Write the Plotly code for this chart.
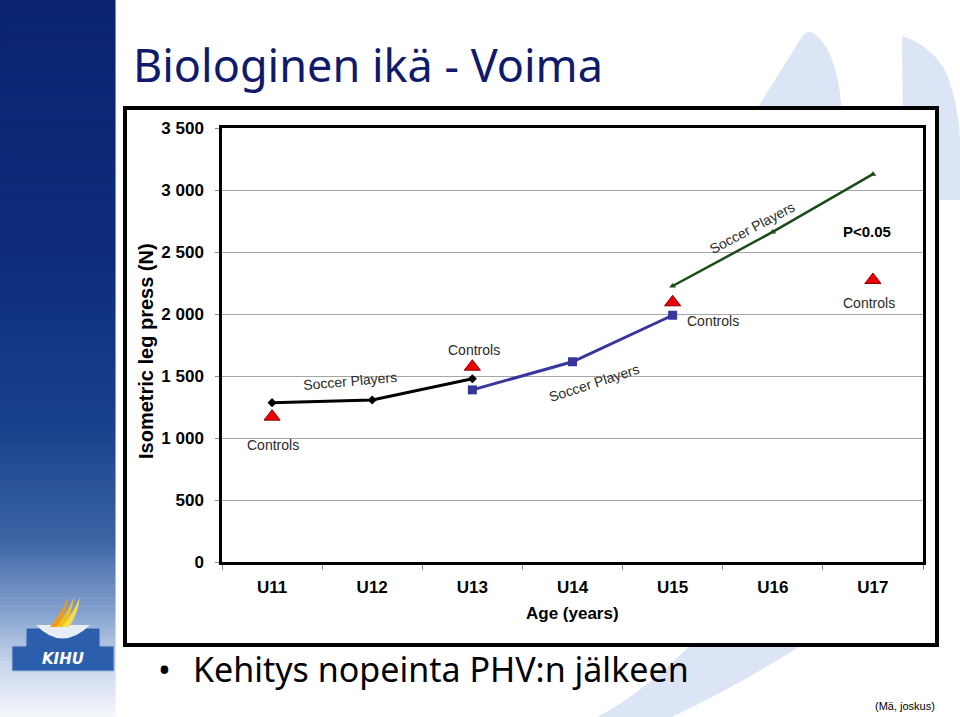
import plotly.graph_objects as go

W, H = 960, 717

# ---------------- data ----------------
categories = ["U11", "U12", "U13", "U14", "U15", "U16", "U17"]

soccer_a_ages = ["U11", "U12", "U13"]
soccer_a_vals = [1285, 1306, 1478]

soccer_b_ages = ["U13", "U14", "U15"]
soccer_b_vals = [1388, 1615, 1990]

soccer_c_ages = ["U15", "U16", "U17"]
soccer_c_vals = [2226, 2662, 3128]

controls_ages = ["U11", "U13", "U15", "U17"]
controls_vals = [1172, 1575, 2094, 2274]

y_tickvals = [0, 500, 1000, 1500, 2000, 2500, 3000, 3500]
y_ticktext = ["0", "500", "1 000", "1 500", "2 000", "2 500", "3 000", "3 500"]


def idx(lst):
    return [categories.index(c) for c in lst]


def px(x):
    return x / W


def py(y):
    return 1 - y / H


FONT = "Liberation Sans, Arial, sans-serif"

fig = go.Figure()

fig.add_trace(go.Scatter(x=idx(soccer_a_ages), y=soccer_a_vals, mode="lines+markers",
                         line=dict(color="#000000", width=3),
                         marker=dict(symbol="diamond", size=7, color="#000000"),
                         showlegend=False))
fig.add_trace(go.Scatter(x=idx(soccer_b_ages), y=soccer_b_vals, mode="lines+markers",
                         line=dict(color="#36369c", width=3),
                         marker=dict(symbol="square", size=9, color="#36369c"),
                         showlegend=False))
fig.add_trace(go.Scatter(x=idx(soccer_c_ages), y=soccer_c_vals, mode="lines+markers",
                         line=dict(color="#1b4a1b", width=2.5),
                         marker=dict(symbol="triangle-up", size=6, color="#1b4a1b"),
                         showlegend=False))
fig.add_trace(go.Scatter(x=idx(controls_ages), y=controls_vals, mode="markers",
                         marker=dict(symbol="triangle-up", size=14, color="#ee0000",
                                     line=dict(color="#8a0000", width=1)),
                         showlegend=False))

shapes = []
# background light-blue fins
fin = "#dbe5f5"
shapes.append(dict(type="path", xref="paper", yref="paper", layer="below", line_width=0, fillcolor=fin,
                   path=f"M {px(700)},{py(200)} L {px(800)},{py(40)} Q {px(806)},{py(28)} {px(815)},{py(34)} "
                        f"Q {px(840)},{py(55)} {px(842)},{py(120)} L {px(842)},{py(200)} Z"))
shapes.append(dict(type="path", xref="paper", yref="paper", layer="below", line_width=0, fillcolor=fin,
                   path=f"M {px(904)},{py(200)} L {px(902)},{py(36)} Q {px(930)},{py(45)} {px(945)},{py(70)} "
                        f"Q {px(958)},{py(100)} {px(960)},{py(140)} L {px(960)},{py(200)} Z"))
shapes.append(dict(type="path", xref="paper", yref="paper", layer="below", line_width=0, fillcolor=fin,
                   path=f"M {px(597)},{py(717)} Q {px(650)},{py(690)} {px(715)},{py(620)} L {px(840)},{py(620)} "
                        f"Q {px(760)},{py(675)} {px(672)},{py(717)} Z"))

# left blue band (gradient by thin strips)
stops = [(0, (10, 36, 112)), (250, (14, 44, 122)), (430, (26, 66, 140)), (540, (60, 100, 165)),
         (610, (130, 160, 205)), (665, (200, 214, 235)), (717, (245, 247, 252))]


def col_at(y):
    for (y0, c0), (y1, c1) in zip(stops[:-1], stops[1:]):
        if y0 <= y <= y1:
            t = (y - y0) / (y1 - y0)
            return "rgb(%d,%d,%d)" % tuple(round(a + (b - a) * t) for a, b in zip(c0, c1))
    return "rgb(245,247,252)"


n = 180
for i in range(n):
    y0 = i * H / n
    y1 = (i + 1) * H / n
    c = col_at((y0 + y1) / 2)
    shapes.append(dict(type="rect", xref="paper", yref="paper", layer="below",
                       line=dict(color=c, width=1), fillcolor=c,
                       x0=0, x1=px(115), y0=py(y1 + 0.5), y1=py(y0)))

# logo: podium
shapes.append(dict(type="path", xref="paper", yref="paper", layer="below",
                   line=dict(color="#9fb6da", width=1), fillcolor="#2b5fae",
                   path=f"M {px(12)},{py(671)} L {px(12)},{py(646)} L {px(26)},{py(646)} L {px(26)},{py(628)} "
                        f"L {px(100)},{py(628)} L {px(100)},{py(646)} L {px(114)},{py(646)} L {px(114)},{py(671)} Z"))
# bowl
shapes.append(dict(type="path", xref="paper", yref="paper", layer="below", line_width=0, fillcolor="#e8edf5",
                   path=f"M {px(36)},{py(625)} Q {px(62)},{py(652)} {px(90)},{py(625)} Z"))
# flames
for c, dx in (("#ef9a1c", -6), ("#f2c21a", 0), ("#f7dd4a", 6)):
    shapes.append(dict(type="path", xref="paper", yref="paper", layer="below", line_width=0, fillcolor=c,
                       path=f"M {px(56+dx)},{py(627)} Q {px(68+dx)},{py(612)} {px(74+dx)},{py(597)} "
                            f"Q {px(72+dx)},{py(614)} {px(63+dx)},{py(627)} Z"))

# outer chart frame
shapes.append(dict(type="rect", xref="paper", yref="paper", layer="below",
                   line=dict(color="#000000", width=4), fillcolor="#ffffff",
                   x0=px(125), x1=px(937), y0=py(645), y1=py(108)))

annotations = []


def ann(text, x, y, size=14, color="#2a2a2a", angle=0, bold=False, xanchor="center", ref="data", family=FONT):
    d = dict(text=("<b>%s</b>" % text) if bold else text, showarrow=False, textangle=angle,
             font=dict(family=family, size=size, color=color), xanchor=xanchor, yanchor="middle")
    if ref == "data":
        d.update(x=x, y=y, xref="x", yref="y")
    else:
        d.update(x=px(x), y=py(y), xref="paper", yref="paper")
    annotations.append(d)


# in-chart labels (data coordinates: category index, newtons)
ann("Soccer Players", 0.78, 1462, angle=-5)
ann("Soccer Players", 3.21, 1446, angle=-18)
ann("Soccer Players", 4.79, 2695, angle=-28)
ann("Controls", 0.01, 944)
ann("Controls", 2.02, 1710)
ann("Controls", 4.40, 1944)
ann("Controls", 5.96, 2089)
ann("P<0.05", 5.945, 2669, size=15, color="#000000", bold=True)

# axis titles
ann("Age (years)", 572, 613, size=17, color="#000000", bold=True, ref="paper")
ann("Isometric leg press (N)", 146, 351, size=20, color="#000000", bold=True, angle=-90, ref="paper")

# slide texts
ann("Biologinen ikä - Voima", 131, 65, size=45, color="#0f1a6a", xanchor="left", ref="paper",
    family="Noto Sans, Open Sans, sans-serif")
ann("•", 156, 669, size=34, color="#000000", xanchor="left", ref="paper",
    family="Noto Sans, Open Sans, sans-serif")
ann("Kehitys nopeinta PHV:n jälkeen", 191, 669, size=34, color="#000000", xanchor="left", ref="paper",
    family="Noto Sans, Open Sans, sans-serif")
ann("(Mä, joskus)", 937, 706, size=11, color="#000000", xanchor="right", ref="paper")
ann("<i><b>KIHU</b></i>", 63, 659, size=15, color="#ffffff", ref="paper", family="DejaVu Sans, sans-serif")

fig.update_layout(
    width=W, height=H, autosize=False,
    margin=dict(l=0, r=0, t=0, b=0, pad=0, autoexpand=False),
    paper_bgcolor="#ffffff", plot_bgcolor="#ffffff",
    shapes=shapes, annotations=annotations,
    xaxis=dict(domain=[px(222), px(923)], range=[-0.5, 6.5], automargin=False,
               tickmode="array", tickvals=list(range(len(categories))), ticktext=categories,
               ticks="", showgrid=False, zeroline=False,
               showline=True, linecolor="#000000", linewidth=2.5, mirror=True,
               tickfont=dict(family=FONT, size=17, color="#000000", weight="bold"),
               ticklabelstandoff=8,
               minor=dict(tickmode="array", tickvals=[i - 0.5 for i in range(len(categories) + 1)],
                          ticks="outside", ticklen=5, tickcolor="#8c8c8c", tickwidth=1, showgrid=False)),
    yaxis=dict(domain=[py(562), py(128)], range=[0, 3500], automargin=False,
               tickmode="array", tickvals=y_tickvals, ticktext=y_ticktext,
               ticks="outside", ticklen=4, tickcolor="#8c8c8c",
               showgrid=True, gridcolor="#a6a6a6", gridwidth=1, zeroline=False,
               showline=True, linecolor="#000000", linewidth=2.5, mirror=True,
               tickfont=dict(family=FONT, size=17, color="#000000", weight="bold"),
               ticklabelstandoff=8),
)

fig.write_html("out.html")
